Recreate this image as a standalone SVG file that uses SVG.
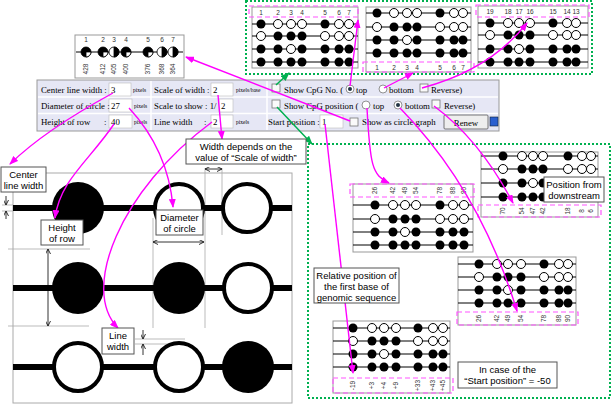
<svg xmlns="http://www.w3.org/2000/svg" width="611" height="404" viewBox="0 0 611 404">
<style>
.pbox{fill:#fff;stroke:#999;stroke-width:1}
.rl{stroke:#000;stroke-width:1}
.mbox{fill:none;stroke:#f5f;stroke-width:1.2;stroke-dasharray:5 3}
.gbox{fill:none;stroke:#00b050;stroke-width:2;stroke-dasharray:2 2}
.lb{font-family:"Liberation Sans",Arial,sans-serif;font-size:6.5px;fill:#333;text-anchor:middle}
.ft{font-family:"Liberation Serif","Times New Roman",serif;font-size:8.8px;fill:#000}
.px{font-family:"Liberation Serif","Times New Roman",serif;font-size:5.5px;fill:#000}
.inp{fill:#fff;stroke:#bbb;stroke-width:0.6}
.cb{fill:#fafafa;stroke:#777;stroke-width:0.8}
.nb{fill:#fff;stroke:#555;stroke-width:1}
.nt{font-family:"Liberation Sans",Arial,sans-serif;font-size:9.5px;fill:#000;text-anchor:middle}
.gl{stroke:#aaa;stroke-width:0.8;fill:none}
.dim{stroke:#000;stroke-width:0.8;fill:none}
.mg{fill:none;stroke:#f0f;stroke-width:1.4;marker-end:url(#ma)}
.gr{fill:none;stroke:#00b050;stroke-width:1.5;marker-end:url(#ga)}
.bigf{fill:#000}
.bigo{fill:#fff;stroke:#000;stroke-width:4}
</style>
<defs>
<circle id="f" r="4.5" fill="#000"/>
<circle id="o" r="4.5" fill="#fff" stroke="#000" stroke-width="1"/>
<marker id="ma" markerUnits="userSpaceOnUse" markerWidth="9" markerHeight="7" refX="8" refY="3.5" orient="auto"><path d="M0,0 L9,3.5 L0,7 z" fill="#f0f"/></marker>
<marker id="ga" markerUnits="userSpaceOnUse" markerWidth="9" markerHeight="7" refX="8" refY="3.5" orient="auto"><path d="M0,0 L9,3.5 L0,7 z" fill="#00b050"/></marker>
<marker id="ba" markerUnits="userSpaceOnUse" markerWidth="5" markerHeight="5" refX="4.5" refY="2.5" orient="auto-start-reverse"><path d="M0,0 L5,2.5 L0,5" fill="none" stroke="#000" stroke-width="0.8"/></marker>
</defs>

<!-- small circle-graph chart -->
<g id="circleChart">
<rect class="pbox" x="75" y="35" width="109" height="43" stroke="#888"/>
<g class="lb"><text x="86" y="42">1</text><text x="103" y="42">2</text><text x="114" y="42">3</text><text x="126" y="42">4</text><text x="148" y="42">5</text><text x="162" y="42">6</text><text x="173" y="42">7</text></g>
<line class="rl" x1="76" y1="52" x2="183" y2="52" stroke-width="1.2"/>
<g stroke="#000" stroke-width="0.8">
<circle cx="86" cy="52" r="5" fill="#000"/><path d="M86,52 L91,52 A5,5 0 0,1 86,57 Z" fill="#fff"/>
<circle cx="103" cy="52" r="5" fill="#000"/><path d="M103,52 L108,52 A5,5 0 0,1 103,57 Z" fill="#fff"/>
<circle cx="114" cy="52" r="5" fill="#fff"/><path d="M114,47 A5,5 0 0,1 114,57 Z" fill="#000"/>
<circle cx="126" cy="52" r="5" fill="#000"/><path d="M126,52 L131,52 A5,5 0 0,1 126,57 Z" fill="#fff"/>
<circle cx="148" cy="52" r="5" fill="#000"/><path d="M148,52 L153,52 A5,5 0 0,1 148,57 Z" fill="#fff"/>
<circle cx="162" cy="52" r="5" fill="#fff"/><path d="M162,47 A5,5 0 0,1 162,57 Z" fill="#000"/>
<circle cx="173" cy="52" r="5" fill="#fff"/><path d="M173,47 A5,5 0 0,1 173,57 Z" fill="#000"/>
</g>
<g class="lb" font-size="6">
<text transform="translate(88.3,69) rotate(-90)">428</text>
<text transform="translate(105.3,69) rotate(-90)">412</text>
<text transform="translate(116.3,69) rotate(-90)">405</text>
<text transform="translate(128.3,69) rotate(-90)">400</text>
<text transform="translate(150.3,69) rotate(-90)">376</text>
<text transform="translate(164.3,69) rotate(-90)">368</text>
<text transform="translate(175.3,69) rotate(-90)">364</text>
</g>
</g>

<!-- form panel -->
<g id="form">
<rect x="37" y="80" width="462" height="51" fill="#e6e7f5" stroke="#999"/>
<line x1="38" y1="97" x2="498" y2="97" stroke="#fff" stroke-width="1.5"/>
<line x1="38" y1="113.5" x2="498" y2="113.5" stroke="#fff" stroke-width="1.5"/>
<line x1="151" y1="81" x2="151" y2="130" stroke="#fff" stroke-width="1.5"/>
<line x1="267" y1="81" x2="267" y2="130" stroke="#fff" stroke-width="1.5"/>
<rect class="inp" x="109" y="83" width="22" height="13"/>
<rect class="inp" x="109" y="99" width="23" height="13"/>
<rect class="inp" x="109" y="115" width="23" height="13"/>
<rect class="inp" x="211" y="83" width="22" height="13"/>
<rect class="inp" x="219" y="99" width="14" height="13"/>
<rect class="inp" x="211" y="115" width="22" height="13"/>
<rect class="inp" x="320" y="115" width="23" height="13"/>
<text class="ft" x="41" y="93">Center line width :</text>
<text class="ft" x="111" y="93">3</text>
<text class="px" x="133" y="92">pixels</text>
<text class="ft" x="154" y="93">Scale of width :</text>
<text class="ft" x="213" y="93">2</text>
<text class="px" x="236" y="92">pixels/base</text>
<text class="ft" x="41" y="109">Diameter of circle :</text>
<text class="ft" x="111" y="109">27</text>
<text class="px" x="134" y="108">pixels</text>
<text class="ft" x="154" y="109">Scale to show : 1/</text>
<text class="ft" x="221" y="109">2</text>
<text class="ft" x="41" y="125">Height of row<tspan x="104">:</tspan></text>
<text class="ft" x="111" y="125">40</text>
<text class="px" x="134" y="124">pixels</text>
<text class="ft" x="154" y="125">Line width<tspan x="204">:</tspan></text>
<text class="ft" x="213" y="125">2</text>
<text class="px" x="236" y="124">pixels</text>
<rect class="cb" x="272" y="84" width="8" height="8"/>
<text class="ft" x="284" y="93">Show CpG No. (</text>
<circle cx="350" cy="89" r="4" fill="#fff" stroke="#777" stroke-width="0.8"/><circle cx="350" cy="89" r="2" fill="#234"/>
<text class="ft" x="356" y="93">top</text>
<circle cx="383" cy="89" r="4" fill="#fff" stroke="#777" stroke-width="0.8"/>
<text class="ft" x="389" y="93">bottom</text>
<rect class="cb" x="420" y="84" width="8" height="8"/>
<text class="ft" x="431" y="93">Reverse)</text>
<rect class="cb" x="272" y="100" width="8" height="8"/>
<text class="ft" x="284" y="109">Show CpG position (</text>
<circle cx="366" cy="105" r="4" fill="#fff" stroke="#777" stroke-width="0.8"/>
<text class="ft" x="373" y="109">top</text>
<circle cx="398" cy="105" r="4" fill="#fff" stroke="#777" stroke-width="0.8"/><circle cx="398" cy="105" r="2" fill="#234"/>
<text class="ft" x="405" y="109">bottom</text>
<rect class="cb" x="432" y="100" width="8" height="8"/>
<text class="ft" x="444" y="109">Reverse)</text>
<text class="ft" x="268" y="125">Start position :</text>
<text class="ft" x="322" y="125">1</text>
<rect class="cb" x="350" y="118" width="8" height="8"/>
<text class="ft" x="362" y="125">Show as circle graph</text>
<rect x="444" y="115" width="44" height="14" fill="#eee" stroke="#555" stroke-width="0.8" rx="1"/>
<text class="ft" x="466" y="125.5" text-anchor="middle">Renew</text>
<rect x="490" y="117" width="8" height="9" fill="#2a5fcf" stroke="#123" stroke-width="0.6"/>
</g>

<!-- top green region -->
<g id="topRegion">
<rect class="gbox" x="246" y="1" width="346" height="73"/>
</g>
<g id="panelA">
<rect class="pbox" x="252" y="7" width="106" height="61"/>
<g class="rl"><line x1="252" y1="24" x2="358" y2="24"/><line x1="252" y1="36" x2="358" y2="36"/><line x1="252" y1="49" x2="358" y2="49"/><line x1="252" y1="62" x2="358" y2="62"/></g>
<use href="#f" x="261" y="24"/><use href="#o" x="278" y="24"/><use href="#o" x="291" y="24"/><use href="#o" x="302" y="24"/><use href="#f" x="325" y="24"/><use href="#o" x="339" y="24"/><use href="#o" x="349" y="24"/>
<use href="#o" x="261" y="36"/><use href="#f" x="278" y="36"/><use href="#f" x="291" y="36"/><use href="#f" x="302" y="36"/><use href="#o" x="325" y="36"/><use href="#o" x="339" y="36"/><use href="#o" x="349" y="36"/>
<use href="#f" x="261" y="49"/><use href="#f" x="278" y="49"/><use href="#o" x="291" y="49"/><use href="#f" x="302" y="49"/><use href="#f" x="325" y="49"/><use href="#f" x="339" y="49"/><use href="#f" x="349" y="49"/>
<use href="#f" x="261" y="62"/><use href="#f" x="278" y="62"/><use href="#f" x="291" y="62"/><use href="#f" x="302" y="62"/><use href="#f" x="325" y="62"/><use href="#f" x="339" y="62"/><use href="#f" x="349" y="62"/>
<rect class="mbox" x="249" y="6" width="109" height="11"/>
<g class="lb"><text x="261" y="15">1</text><text x="278" y="15">2</text><text x="291" y="15">3</text><text x="302" y="15">4</text><text x="325" y="15">5</text><text x="339" y="15">6</text><text x="349" y="15">7</text></g>
</g>
<g id="panelB">
<rect class="pbox" x="366" y="7" width="105" height="65"/>
<g class="rl"><line x1="366" y1="13" x2="471" y2="13"/><line x1="366" y1="27" x2="471" y2="27"/><line x1="366" y1="40" x2="471" y2="40"/><line x1="366" y1="53" x2="471" y2="53"/></g>
<use href="#f" x="377" y="13"/><use href="#o" x="394" y="13"/><use href="#o" x="407" y="13"/><use href="#o" x="417" y="13"/><use href="#f" x="440" y="13"/><use href="#o" x="454" y="13"/><use href="#o" x="463" y="13"/>
<use href="#o" x="377" y="27"/><use href="#f" x="394" y="27"/><use href="#f" x="407" y="27"/><use href="#f" x="417" y="27"/><use href="#o" x="440" y="27"/><use href="#o" x="454" y="27"/><use href="#o" x="463" y="27"/>
<use href="#f" x="377" y="40"/><use href="#f" x="394" y="40"/><use href="#o" x="407" y="40"/><use href="#f" x="417" y="40"/><use href="#f" x="440" y="40"/><use href="#f" x="454" y="40"/><use href="#f" x="463" y="40"/>
<use href="#f" x="377" y="53"/><use href="#f" x="394" y="53"/><use href="#f" x="407" y="53"/><use href="#f" x="417" y="53"/><use href="#f" x="440" y="53"/><use href="#f" x="454" y="53"/><use href="#f" x="463" y="53"/>
<rect class="mbox" x="363" y="62" width="111" height="10"/>
<g class="lb"><text x="377" y="70">1</text><text x="394" y="70">2</text><text x="407" y="70">3</text><text x="417" y="70">4</text><text x="440" y="70">5</text><text x="454" y="70">6</text><text x="463" y="70">7</text></g>
</g>
<g id="panelC">
<rect class="pbox" x="478" y="6" width="110" height="62"/>
<g class="rl"><line x1="478" y1="23" x2="588" y2="23"/><line x1="478" y1="35" x2="588" y2="35"/><line x1="478" y1="49" x2="588" y2="49"/><line x1="478" y1="62" x2="588" y2="62"/></g>
<use href="#f" x="490" y="23"/><use href="#o" x="508" y="23"/><use href="#o" x="519" y="23"/><use href="#o" x="530" y="23"/><use href="#f" x="553" y="23"/><use href="#o" x="567" y="23"/><use href="#o" x="576" y="23"/>
<use href="#o" x="490" y="35"/><use href="#f" x="508" y="35"/><use href="#f" x="519" y="35"/><use href="#f" x="530" y="35"/><use href="#o" x="553" y="35"/><use href="#o" x="567" y="35"/><use href="#o" x="576" y="35"/>
<use href="#f" x="490" y="49"/><use href="#f" x="508" y="49"/><use href="#o" x="519" y="49"/><use href="#f" x="530" y="49"/><use href="#f" x="553" y="49"/><use href="#f" x="567" y="49"/><use href="#f" x="576" y="49"/>
<use href="#f" x="490" y="62"/><use href="#f" x="508" y="62"/><use href="#f" x="519" y="62"/><use href="#f" x="530" y="62"/><use href="#f" x="553" y="62"/><use href="#f" x="567" y="62"/><use href="#f" x="576" y="62"/>
<rect class="mbox" x="476" y="5" width="113" height="12"/>
<g class="lb"><text x="490" y="14">19</text><text x="508" y="14">18</text><text x="519" y="14">17</text><text x="530" y="14">16</text><text x="553" y="14">15</text><text x="567" y="14">14</text><text x="576" y="14">13</text></g>
</g>

<!-- left enlarged diagram -->
<g id="enlarged">
<rect x="13" y="173" width="279" height="230" fill="#fff" stroke="#aaa" stroke-width="1"/>
<g class="gl">
<line x1="153" y1="218" x2="153" y2="328"/>
<line x1="205" y1="168" x2="205" y2="328"/>
<line x1="222" y1="168" x2="222" y2="235"/>
<line x1="8" y1="249" x2="90" y2="249"/>
<line x1="8" y1="326" x2="89" y2="326"/>
<line x1="135" y1="339" x2="185" y2="339"/>
<line x1="135" y1="344" x2="185" y2="344"/>
<line x1="2" y1="205" x2="13" y2="205"/>
<line x1="2" y1="211" x2="13" y2="211"/>
</g>
<rect x="13" y="205" width="279" height="6" fill="#000"/>
<rect x="13" y="285" width="279" height="6" fill="#000"/>
<rect x="13" y="364" width="279" height="6" fill="#000"/>
<circle class="bigf" cx="78" cy="208" r="26"/>
<circle class="bigo" cx="179" cy="208" r="24"/>
<circle class="bigo" cx="247" cy="208" r="24"/>
<circle class="bigf" cx="78" cy="288" r="26"/>
<circle class="bigf" cx="179" cy="288" r="26"/>
<circle class="bigo" cx="248" cy="288" r="24"/>
<circle class="bigo" cx="78" cy="367" r="24"/>
<circle class="bigo" cx="179" cy="367" r="24"/>
<circle class="bigf" cx="248" cy="367" r="26"/>
<g class="dim">
<line x1="6" y1="196" x2="6" y2="204.5" marker-end="url(#ba)"/>
<line x1="6" y1="219" x2="6" y2="211.5" marker-end="url(#ba)"/>
<line x1="48" y1="249.5" x2="48" y2="325.5" marker-start="url(#ba)" marker-end="url(#ba)"/>
<line x1="153.5" y1="242" x2="203.5" y2="242" marker-start="url(#ba)" marker-end="url(#ba)"/>
<line x1="205.5" y1="169" x2="221.5" y2="169" marker-start="url(#ba)" marker-end="url(#ba)"/>
<line x1="143" y1="330" x2="143" y2="338.5" marker-end="url(#ba)"/>
<line x1="143" y1="355" x2="143" y2="344.5" marker-end="url(#ba)"/>
</g>
</g>

<!-- right green region -->
<g id="rightRegion">
<rect class="gbox" x="308" y="144" width="302" height="254"/>
</g>
<g id="panel1">
<rect class="pbox" x="353" y="184" width="120" height="68"/>
<g class="rl"><line x1="353" y1="205" x2="473" y2="205"/><line x1="353" y1="219" x2="473" y2="219"/><line x1="353" y1="232" x2="473" y2="232"/><line x1="353" y1="245" x2="473" y2="245"/></g>
<use href="#f" x="375" y="205"/><use href="#o" x="393" y="205"/><use href="#o" x="405" y="205"/><use href="#o" x="416" y="205"/><use href="#f" x="440" y="205"/><use href="#o" x="453" y="205"/><use href="#o" x="464" y="205"/>
<use href="#o" x="375" y="219"/><use href="#f" x="393" y="219"/><use href="#f" x="405" y="219"/><use href="#f" x="416" y="219"/><use href="#o" x="440" y="219"/><use href="#o" x="453" y="219"/><use href="#o" x="464" y="219"/>
<use href="#f" x="375" y="232"/><use href="#f" x="393" y="232"/><use href="#o" x="405" y="232"/><use href="#f" x="416" y="232"/><use href="#f" x="440" y="232"/><use href="#f" x="453" y="232"/><use href="#f" x="464" y="232"/>
<use href="#f" x="375" y="245"/><use href="#f" x="393" y="245"/><use href="#f" x="405" y="245"/><use href="#f" x="416" y="245"/><use href="#f" x="440" y="245"/><use href="#f" x="453" y="245"/><use href="#f" x="464" y="245"/>
<rect class="mbox" x="350" y="184" width="124" height="13"/>
<g class="lb">
<text transform="translate(377.3,190.5) rotate(-90)">26</text><text transform="translate(395.3,190.5) rotate(-90)">42</text><text transform="translate(407.3,190.5) rotate(-90)">49</text><text transform="translate(418.3,190.5) rotate(-90)">54</text><text transform="translate(442.3,190.5) rotate(-90)">78</text><text transform="translate(455.3,190.5) rotate(-90)">88</text><text transform="translate(466.3,190.5) rotate(-90)">90</text>
</g>
</g>
<g id="panel2">
<rect class="pbox" x="481" y="152" width="117" height="65"/>
<g class="rl"><line x1="481" y1="156" x2="598" y2="156"/><line x1="481" y1="169" x2="598" y2="169"/><line x1="481" y1="183" x2="598" y2="183"/><line x1="481" y1="197" x2="598" y2="197"/></g>
<use href="#f" x="503" y="156"/><use href="#o" x="522" y="156"/><use href="#o" x="533" y="156"/><use href="#o" x="543" y="156"/><use href="#f" x="568" y="156"/><use href="#o" x="582" y="156"/><use href="#o" x="591" y="156"/>
<use href="#o" x="503" y="169"/><use href="#f" x="522" y="169"/><use href="#f" x="533" y="169"/><use href="#f" x="543" y="169"/><use href="#o" x="568" y="169"/><use href="#o" x="582" y="169"/><use href="#o" x="591" y="169"/>
<use href="#f" x="503" y="183"/><use href="#f" x="522" y="183"/><use href="#o" x="533" y="183"/><use href="#f" x="543" y="183"/><use href="#f" x="568" y="183"/><use href="#f" x="582" y="183"/><use href="#f" x="591" y="183"/>
<use href="#f" x="503" y="197"/><use href="#f" x="522" y="197"/><use href="#f" x="533" y="197"/><use href="#f" x="543" y="197"/><use href="#f" x="568" y="197"/><use href="#f" x="582" y="197"/><use href="#f" x="591" y="197"/>
<rect class="mbox" x="478" y="205" width="123" height="12"/>
<g class="lb">
<text transform="translate(505.3,211) rotate(-90)">70</text><text transform="translate(524.3,211) rotate(-90)">54</text><text transform="translate(535.3,211) rotate(-90)">47</text><text transform="translate(545.3,211) rotate(-90)">42</text><text transform="translate(570.3,211) rotate(-90)">18</text><text transform="translate(584.3,211) rotate(-90)">8</text><text transform="translate(593.3,211) rotate(-90)">6</text>
</g>
</g>
<g id="panel3">
<rect class="pbox" x="458" y="257" width="118" height="68"/>
<g class="rl"><line x1="458" y1="264" x2="576" y2="264"/><line x1="458" y1="277" x2="576" y2="277"/><line x1="458" y1="290" x2="576" y2="290"/><line x1="458" y1="303" x2="576" y2="303"/></g>
<use href="#f" x="479" y="264"/><use href="#o" x="497" y="264"/><use href="#o" x="508" y="264"/><use href="#o" x="521" y="264"/><use href="#f" x="544" y="264"/><use href="#o" x="559" y="264"/><use href="#o" x="568" y="264"/>
<use href="#o" x="479" y="277"/><use href="#f" x="497" y="277"/><use href="#f" x="508" y="277"/><use href="#f" x="521" y="277"/><use href="#o" x="544" y="277"/><use href="#o" x="559" y="277"/><use href="#o" x="568" y="277"/>
<use href="#f" x="479" y="290"/><use href="#f" x="497" y="290"/><use href="#o" x="508" y="290"/><use href="#f" x="521" y="290"/><use href="#f" x="544" y="290"/><use href="#f" x="559" y="290"/><use href="#f" x="568" y="290"/>
<use href="#f" x="479" y="303"/><use href="#f" x="497" y="303"/><use href="#f" x="508" y="303"/><use href="#f" x="521" y="303"/><use href="#f" x="544" y="303"/><use href="#f" x="559" y="303"/><use href="#f" x="568" y="303"/>
<rect class="mbox" x="457" y="312" width="121" height="13"/>
<g class="lb">
<text transform="translate(481.3,318.5) rotate(-90)">26</text><text transform="translate(499.3,318.5) rotate(-90)">42</text><text transform="translate(510.3,318.5) rotate(-90)">49</text><text transform="translate(523.3,318.5) rotate(-90)">54</text><text transform="translate(546.3,318.5) rotate(-90)">78</text><text transform="translate(561.3,318.5) rotate(-90)">88</text><text transform="translate(570.3,318.5) rotate(-90)">90</text>
</g>
</g>
<g id="panel4">
<rect class="pbox" x="333" y="321" width="117" height="72"/>
<g class="rl"><line x1="333" y1="328" x2="450" y2="328"/><line x1="333" y1="341" x2="450" y2="341"/><line x1="333" y1="354" x2="450" y2="354"/><line x1="333" y1="367" x2="450" y2="367"/></g>
<use href="#f" x="353" y="328"/><use href="#o" x="372" y="328"/><use href="#o" x="384" y="328"/><use href="#o" x="396" y="328"/><use href="#f" x="418" y="328"/><use href="#o" x="433" y="328"/><use href="#o" x="443" y="328"/>
<use href="#o" x="353" y="341"/><use href="#f" x="372" y="341"/><use href="#f" x="384" y="341"/><use href="#f" x="396" y="341"/><use href="#o" x="418" y="341"/><use href="#o" x="433" y="341"/><use href="#o" x="443" y="341"/>
<use href="#f" x="353" y="354"/><use href="#f" x="372" y="354"/><use href="#o" x="384" y="354"/><use href="#f" x="396" y="354"/><use href="#f" x="418" y="354"/><use href="#f" x="433" y="354"/><use href="#f" x="443" y="354"/>
<use href="#f" x="353" y="367"/><use href="#f" x="372" y="367"/><use href="#f" x="384" y="367"/><use href="#f" x="396" y="367"/><use href="#f" x="418" y="367"/><use href="#f" x="433" y="367"/><use href="#f" x="443" y="367"/>
<rect class="mbox" x="333" y="378" width="120" height="15"/>
<g class="lb">
<text transform="translate(355.3,385.5) rotate(-90)">-19</text><text transform="translate(374.3,385.5) rotate(-90)">+3</text><text transform="translate(386.3,385.5) rotate(-90)">+4</text><text transform="translate(398.3,385.5) rotate(-90)">+9</text><text transform="translate(420.3,385.5) rotate(-90)">+33</text><text transform="translate(435.3,385.5) rotate(-90)">+43</text><text transform="translate(445.3,385.5) rotate(-90)">+45</text>
</g>
</g>

<!-- connectors -->
<g id="connectors">
<path class="mg" d="M113,93 Q45,130 10,164"/>
<path class="mg" d="M114,124 C90,160 60,180 55,218"/>
<path class="mg" d="M129,108 Q168,150 173,207"/>
<path class="mg" d="M212,122 C120,190 80,290 118,328"/>
<path class="mg" d="M218,95 L222,139"/>
<path class="mg" d="M350,121 Q265,88 186,57"/>
<path class="mg" d="M350,86 L358,20"/>
<path class="mg" d="M384,88 L413,73"/>
<path class="mg" d="M422,88 Q490,70 527,23"/>
<path class="mg" d="M367,108 C370,165 372,175 389,183"/>
<path class="mg" d="M400,108 Q480,190 517,311"/>
<path class="mg" d="M434,106 Q480,140 513,203"/>
<path class="mg" d="M325,124 L353,373"/>
<path class="gr" d="M276,85 L289,73"/>
<path class="gr" d="M277,107 L312,144"/>
</g>

<!-- note boxes -->
<g id="noteCenterLine"><rect class="nb" x="1" y="167" width="45" height="25"/><text class="nt" x="23.5" y="177.5">Center</text><text class="nt" x="23.5" y="188.5">line width</text></g>
<g id="noteHeight"><rect class="nb" x="41" y="220" width="42" height="25"/><text class="nt" x="62" y="230.5">Height</text><text class="nt" x="62" y="241.5">of row</text></g>
<g id="noteDiameter"><rect class="nb" x="156" y="210" width="47" height="25"/><text class="nt" x="179.5" y="220.5">Diameter</text><text class="nt" x="179.5" y="231.5">of circle</text></g>
<g id="noteWidth"><rect class="nb" x="186" y="139" width="120" height="25"/><text class="nt" x="246" y="149.5">Width depends on the</text><text class="nt" x="246" y="160.5">value of “Scale of width”</text></g>
<g id="noteLineWidth"><rect class="nb" x="102" y="328" width="32" height="26"/><text class="nt" x="118" y="338.5">Line</text><text class="nt" x="118" y="350">width</text></g>
<g id="noteRelative"><rect class="nb" x="314" y="268" width="85" height="35"/><text class="nt" font-size="9" x="356.5" y="278.5">Relative position of</text><text class="nt" font-size="9" x="356.5" y="289.5">the first base of</text><text class="nt" font-size="9" x="356.5" y="300.5">genomic sequence</text></g>
<g id="noteDownstream"><rect class="nb" x="544" y="177" width="60" height="25"/><text class="nt" x="574" y="187.5">Position from</text><text class="nt" x="574" y="198.5">downstream</text></g>
<g id="noteStart"><rect class="nb" x="458" y="362" width="99" height="26"/><text class="nt" x="507.5" y="372.5">In case of the</text><text class="nt" x="507.5" y="384">“Start position” = -50</text></g>
</svg>
